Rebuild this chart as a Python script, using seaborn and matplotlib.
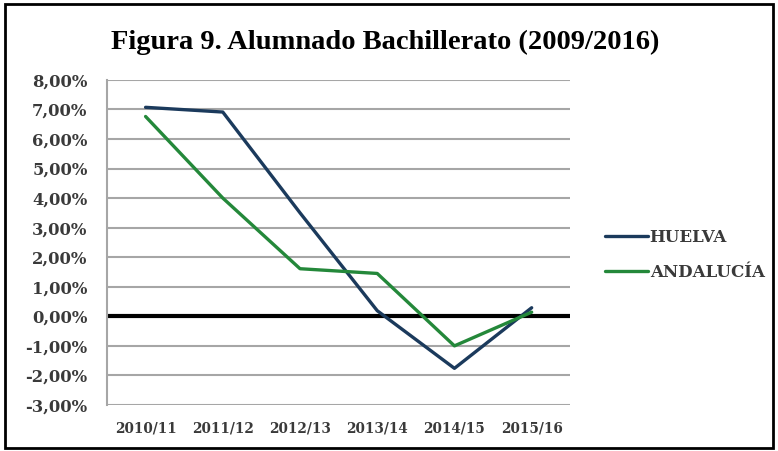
import pandas as pd
import matplotlib.pyplot as plt
import matplotlib.patches as mpatches
from matplotlib.ticker import FuncFormatter
import seaborn as sns

# data (% change)
cursos = ['2010/11', '2011/12', '2012/13', '2013/14', '2014/15', '2015/16']
huelva = [7.07, 6.91, 3.50, 0.19, -1.76, 0.29]
andalucia = [6.76, 4.00, 1.61, 1.45, -1.00, 0.14]
series_names = ['HUELVA', 'ANDALUCÍA']
colors = ['#1b3a5c', '#24883a']

df = pd.DataFrame({
    'Curso': cursos * 2,
    'Valor': huelva + andalucia,
    'Serie': [series_names[0]] * len(cursos) + [series_names[1]] * len(cursos),
})
df['x'] = df['Curso'].map({c: i for i, c in enumerate(cursos)})

sns.set_style("white")
plt.rcParams['font.family'] = ['DejaVu Serif']

fig = plt.figure(figsize=(7.78, 4.51), dpi=100)
ax = fig.add_axes([0.1375, 0.102, 0.5955, 0.721])

# grid lines
for v in range(-3, 9):
    ax.axhline(v, color='#a6a6a6', lw=1.5, zorder=0)
ax.axhline(0, color='black', lw=3, zorder=1)

sns.lineplot(data=df, x='x', y='Valor', hue='Serie', palette=colors,
             linewidth=2.4, ax=ax, legend=False, zorder=3)

ax.set_xlim(-0.5, len(cursos) - 0.5)
ax.set_ylim(-3, 8)
ax.set_yticks(range(-3, 9))
ax.yaxis.set_major_formatter(FuncFormatter(lambda v, p: f"{v:.2f}%".replace('.', ',')))
ax.set_xticks(range(len(cursos)))
ax.set_xticklabels(cursos)
ax.tick_params(axis='both', length=0, colors='#3a3a3a')
ax.tick_params(axis='y', labelsize=11.8, pad=14)
ax.tick_params(axis='x', labelsize=9.8, pad=12)
for lab in ax.get_xticklabels() + ax.get_yticklabels():
    lab.set_fontweight('bold')
ax.set_xlabel('')
ax.set_ylabel('')

for s in ['top', 'right', 'bottom']:
    ax.spines[s].set_visible(False)
ax.spines['left'].set_color('#a6a6a6')
ax.spines['left'].set_linewidth(1.5)

# legend on the right
handles = [plt.Line2D([], [], color=c, lw=2.4) for c in colors]
leg = fig.legend(handles, series_names, loc='center left',
                 bbox_to_anchor=(0.758, 0.435), frameon=False,
                 handlelength=2.6, handletextpad=0.1, labelspacing=1.05,
                 prop={'family': 'DejaVu Serif', 'weight': 'bold', 'size': 12})
for t in leg.get_texts():
    t.set_color('#3a3a3a')

fig.text(0.495, 0.905, 'Figura 9. Alumnado Bachillerato (2009/2016)',
         ha='center', va='center', fontsize=20.5, fontweight='bold',
         family='Liberation Serif', color='black')

# outer frame
fig.patches.append(mpatches.Rectangle((0.007, 0.007), 0.987, 0.984,
                                      transform=fig.transFigure, fill=False,
                                      edgecolor='black', lw=2))

fig.savefig('out.png', dpi=100)
